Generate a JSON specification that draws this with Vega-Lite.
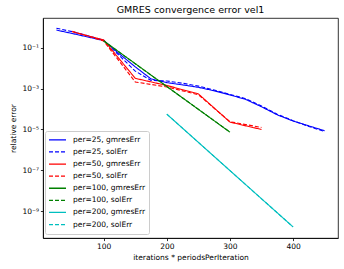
{
  "$schema": "https://vega.github.io/schema/vega-lite/v6.json",
  "width": 295,
  "height": 220,
  "autosize": {"type": "none"},
  "padding": {"left": 43, "top": 18, "right": 6, "bottom": 31},
  "background": "white",
  "title": {"text": "GMRES convergence error vel1", "fontSize": 9.5, "fontWeight": "normal", "font": "DejaVu Sans", "color": "black", "offset": 4},
  "config": {
    "font": "DejaVu Sans",
    "view": {"stroke": "black", "strokeWidth": 0.8},
    "axis": {"labelFontSize": 7.5, "titleFontSize": 7.5, "labelColor": "black", "titleColor": "black", "titleFontWeight": "normal", "tickColor": "black", "domainColor": "black", "tickSize": 2.6, "labelPadding": 2, "grid": false, "domainWidth": 0.8, "tickWidth": 0.8}
  },
  "data": {"values": [
    {"series": "per=25, gmresErr", "x": 25, "y": 0.72},
    {"series": "per=25, gmresErr", "x": 50, "y": 0.49},
    {"series": "per=25, gmresErr", "x": 75, "y": 0.33},
    {"series": "per=25, gmresErr", "x": 100, "y": 0.22},
    {"series": "per=25, gmresErr", "x": 125, "y": 0.049},
    {"series": "per=25, gmresErr", "x": 150, "y": 0.0115},
    {"series": "per=25, gmresErr", "x": 175, "y": 0.00295},
    {"series": "per=25, gmresErr", "x": 200, "y": 0.00195},
    {"series": "per=25, gmresErr", "x": 225, "y": 0.00151},
    {"series": "per=25, gmresErr", "x": 250, "y": 0.00115},
    {"series": "per=25, gmresErr", "x": 275, "y": 0.00078},
    {"series": "per=25, gmresErr", "x": 300, "y": 0.00049},
    {"series": "per=25, gmresErr", "x": 325, "y": 0.000295},
    {"series": "per=25, gmresErr", "x": 350, "y": 0.000129},
    {"series": "per=25, gmresErr", "x": 375, "y": 0.000052},
    {"series": "per=25, gmresErr", "x": 400, "y": 0.000026},
    {"series": "per=25, gmresErr", "x": 425, "y": 0.000015},
    {"series": "per=25, gmresErr", "x": 450, "y": 0.0000087},
    {"series": "per=25, solErr", "x": 25, "y": 0.89},
    {"series": "per=25, solErr", "x": 50, "y": 0.6},
    {"series": "per=25, solErr", "x": 75, "y": 0.38},
    {"series": "per=25, solErr", "x": 100, "y": 0.23},
    {"series": "per=25, solErr", "x": 125, "y": 0.04},
    {"series": "per=25, solErr", "x": 150, "y": 0.0071},
    {"series": "per=25, solErr", "x": 175, "y": 0.0025},
    {"series": "per=25, solErr", "x": 200, "y": 0.00234},
    {"series": "per=25, solErr", "x": 225, "y": 0.00182},
    {"series": "per=25, solErr", "x": 250, "y": 0.00132},
    {"series": "per=25, solErr", "x": 275, "y": 0.00085},
    {"series": "per=25, solErr", "x": 300, "y": 0.00052},
    {"series": "per=25, solErr", "x": 325, "y": 0.00032},
    {"series": "per=25, solErr", "x": 350, "y": 0.000141},
    {"series": "per=25, solErr", "x": 375, "y": 0.000056},
    {"series": "per=25, solErr", "x": 400, "y": 0.000027},
    {"series": "per=25, solErr", "x": 425, "y": 0.0000141},
    {"series": "per=25, solErr", "x": 450, "y": 0.0000079},
    {"series": "per=50, gmresErr", "x": 50, "y": 0.6},
    {"series": "per=50, gmresErr", "x": 100, "y": 0.234},
    {"series": "per=50, gmresErr", "x": 150, "y": 0.00316},
    {"series": "per=50, gmresErr", "x": 200, "y": 0.00141},
    {"series": "per=50, gmresErr", "x": 250, "y": 0.00055},
    {"series": "per=50, gmresErr", "x": 300, "y": 0.000023},
    {"series": "per=50, gmresErr", "x": 350, "y": 0.00001},
    {"series": "per=50, solErr", "x": 50, "y": 0.63},
    {"series": "per=50, solErr", "x": 100, "y": 0.21},
    {"series": "per=50, solErr", "x": 150, "y": 0.0021},
    {"series": "per=50, solErr", "x": 200, "y": 0.0012},
    {"series": "per=50, solErr", "x": 250, "y": 0.0005},
    {"series": "per=50, solErr", "x": 300, "y": 0.000024},
    {"series": "per=50, solErr", "x": 350, "y": 0.0000126},
    {"series": "per=100, gmresErr", "x": 100, "y": 0.214},
    {"series": "per=100, gmresErr", "x": 200, "y": 0.00126},
    {"series": "per=100, gmresErr", "x": 300, "y": 0.0000074},
    {"series": "per=100, solErr", "x": 100, "y": 0.21},
    {"series": "per=100, solErr", "x": 200, "y": 0.00125},
    {"series": "per=100, solErr", "x": 300, "y": 0.0000075},
    {"series": "per=200, gmresErr", "x": 200, "y": 0.000056},
    {"series": "per=200, gmresErr", "x": 400, "y": 1.74e-10},
    {"series": "per=200, solErr", "x": 200, "y": 0.000056},
    {"series": "per=200, solErr", "x": 400, "y": 1.74e-10}
  ]},
  "mark": {"type": "line", "strokeWidth": 1.1, "clip": true},
  "encoding": {
    "x": {"field": "x", "type": "quantitative", "scale": {"domain": [3.75, 471.25], "nice": false, "zero": false},
      "axis": {"values": [100, 200, 300, 400], "title": "iterations * periodsPerIteration", "titlePadding": 3}},
    "y": {"field": "y", "type": "quantitative", "scale": {"type": "log", "domain": [5.0e-11, 2.8], "nice": false},
      "axis": {"values": [0.1, 0.001, 0.00001, 1e-7, 1e-9], "title": "relative error", "titlePadding": 4,
        "labelExpr": "'10' + replace(replace(replace(replace(replace(replace('' + round(log(datum.value)/LN10), '-', '⁻'), '1', '¹'), '3', '³'), '5', '⁵'), '7', '⁷'), '9', '⁹')"}},
    "detail": {"field": "series"},
    "color": {"field": "series", "type": "nominal",
      "scale": {"domain": ["per=25, gmresErr", "per=25, solErr", "per=50, gmresErr", "per=50, solErr", "per=100, gmresErr", "per=100, solErr", "per=200, gmresErr", "per=200, solErr"],
        "range": ["#0000ff", "#0000ff", "#ff0000", "#ff0000", "#008000", "#008000", "#00bfbf", "#00bfbf"]},
      "legend": {"title": null, "orient": "none", "legendX": 2, "legendY": 113, "symbolType": "stroke", "symbolSize": 289, "symbolStrokeWidth": 1.3, "labelFontSize": 7.5, "labelColor": "black", "labelOffset": 6, "rowPadding": 0.1, "clipHeight": 11.7, "fillColor": "white", "strokeColor": "#cccccc", "cornerRadius": 2, "padding": 3, "labelLimit": 200}},
    "strokeDash": {"field": "series", "type": "nominal",
      "scale": {"domain": ["per=25, gmresErr", "per=25, solErr", "per=50, gmresErr", "per=50, solErr", "per=100, gmresErr", "per=100, solErr", "per=200, gmresErr", "per=200, solErr"],
        "range": [[1, 0], [4, 2], [1, 0], [4, 2], [1, 0], [4, 2], [1, 0], [4, 2]]}}
  }
}
